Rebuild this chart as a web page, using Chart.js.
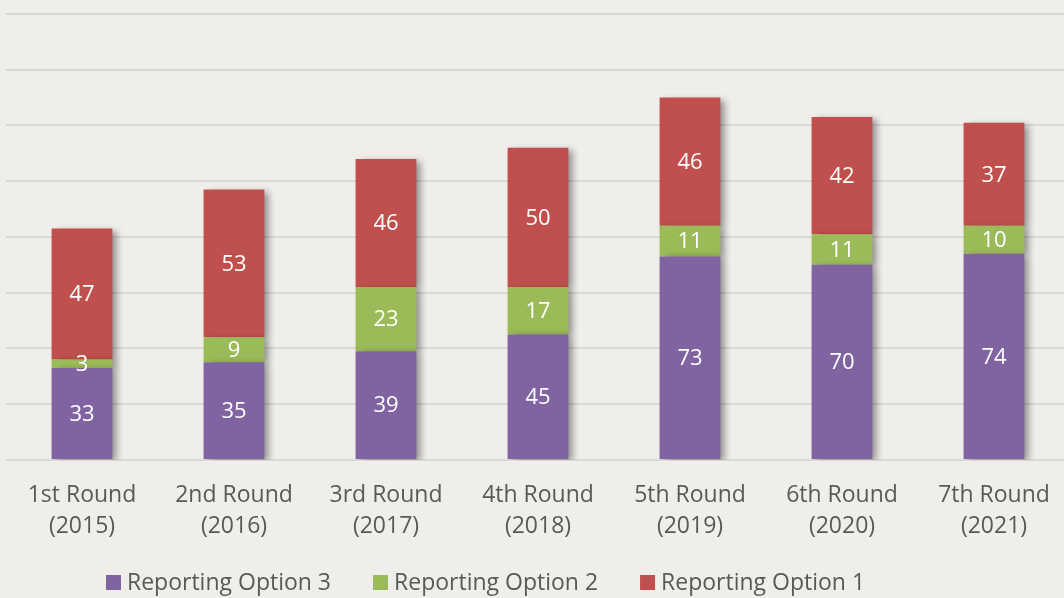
<!DOCTYPE html>
<html>
<head>
<meta charset="utf-8">
<script src="https://cdn.jsdelivr.net/npm/chart.js@4/dist/chart.umd.min.js"></script>
<style>
  html, body { margin: 0; padding: 0; background: #EFEEEA; overflow: hidden; }
  #wrap { width: 1072px; height: 598px; position: relative; }
</style>
</head>
<body>
<div id="wrap"><canvas id="roundsChart"></canvas></div>
<script>
// --- DATA ---
const rounds = [
  ["1st Round", "(2015)"], ["2nd Round", "(2016)"], ["3rd Round", "(2017)"],
  ["4th Round", "(2018)"], ["5th Round", "(2019)"], ["6th Round", "(2020)"],
  ["7th Round", "(2021)"]
];
const option3 = [33, 35, 39, 45, 73, 70, 74];
const option2 = [3, 9, 23, 17, 11, 11, 10];
const option1 = [47, 53, 46, 50, 46, 42, 37];

const FONT = "'Open Sans', sans-serif";
const TEXT_GREY = "#595959";

// soft shadow on right side of the bars
const barShadow = {
  id: "barShadow",
  beforeDatasetDraw(chart) {
    const ctx = chart.ctx;
    ctx.save();
    ctx.shadowColor = "rgba(0,0,0,0.4)";
    ctx.shadowBlur = 7;
    ctx.shadowOffsetX = 5;
    ctx.shadowOffsetY = 2;
  },
  afterDatasetDraw(chart) {
    chart.ctx.restore();
  }
};

// value labels in the middle of each segment
const segLabels = {
  id: "segLabels",
  afterDatasetsDraw(chart) {
    const ctx = chart.ctx;
    ctx.save();
    ctx.fillStyle = "#FFFFFF";
    ctx.font = "22px " + FONT;
    ctx.textAlign = "center";
    ctx.textBaseline = "middle";
    chart.data.datasets.forEach((ds, i) => {
      chart.getDatasetMeta(i).data.forEach((bar, j) => {
        ctx.fillText(ds.data[j], bar.x, (bar.y + bar.base) / 2 + 1);
      });
    });
    ctx.restore();
  }
};

// legend row under the axis labels (the original sits a bit left of centre)
const bottomLegend = {
  id: "bottomLegend",
  afterDraw(chart) {
    const ctx = chart.ctx;
    const y = chart.height - 15;
    let x = chart.chartArea.left + 100;
    ctx.save();
    ctx.font = "23px " + FONT;
    ctx.textBaseline = "middle";
    chart.data.datasets.forEach(ds => {
      ctx.fillStyle = ds.backgroundColor;
      ctx.fillRect(x, y - 8, 15, 15);
      ctx.fillStyle = TEXT_GREY;
      ctx.fillText(ds.label, x + 21, y);
      x += 21 + ctx.measureText(ds.label).width + 42;
    });
    ctx.restore();
  }
};

new Chart(document.getElementById("roundsChart"), {
  type: "bar",
  data: {
    labels: rounds,
    datasets: [
      { label: "Reporting Option 3", data: option3, backgroundColor: "#8064A2" },
      { label: "Reporting Option 2", data: option2, backgroundColor: "#9BBB59" },
      { label: "Reporting Option 1", data: option1, backgroundColor: "#C0504D" }
    ]
  },
  options: {
    responsive: true,
    maintainAspectRatio: false,
    animation: false,
    layout: { padding: { left: 6, right: 2, top: 14, bottom: 44 } },
    datasets: { bar: { categoryPercentage: 1, barPercentage: 0.4 } },
    plugins: {
      tooltip: { enabled: false },
      legend: { display: false }
    },
    scales: {
      x: {
        stacked: true,
        grid: { display: false },
        border: { display: false },
        ticks: { color: TEXT_GREY, font: { family: FONT, size: 23, lineHeight: 1.35 }, padding: 12, maxRotation: 0 }
      },
      y: {
        stacked: true,
        min: 0,
        max: 160,
        grid: { color: "#D9D8D4", lineWidth: 2, drawTicks: false },
        border: { display: false },
        ticks: { display: false, stepSize: 20 }
      }
    }
  },
  plugins: [barShadow, segLabels, bottomLegend]
});
</script>
</body>
</html>
